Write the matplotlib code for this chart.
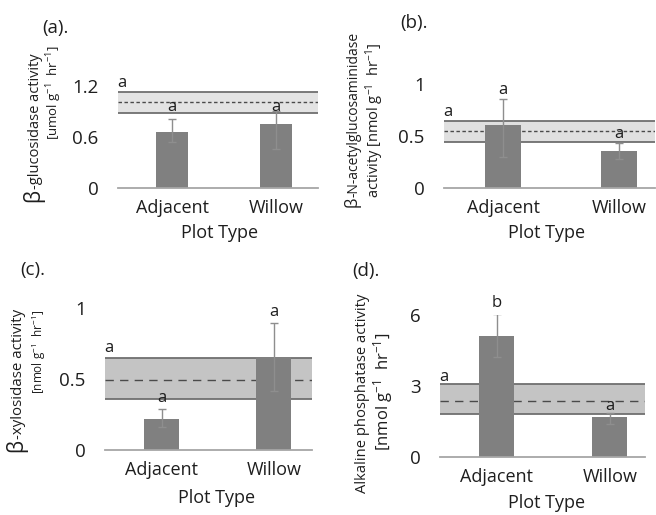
import matplotlib
matplotlib.use("Agg")
import matplotlib.pyplot as plt

plt.rcParams['font.family'] = ['Open Sans', 'DejaVu Sans']
plt.rcParams['mathtext.fontset'] = 'custom'
plt.rcParams['mathtext.rm'] = 'Open Sans'
plt.rcParams['mathtext.it'] = 'Open Sans:italic'
plt.rcParams['mathtext.bf'] = 'Open Sans:bold'

W, H = 656, 515

categories = ["Adjacent", "Willow"]

# (a) beta-glucosidase
a_mean = [0.66, 0.75]
a_lo = [0.12, 0.29]
a_hi = [0.15, 0.16]
a_band = [0.88, 1.13]
a_ctrl = 1.01
a_ticks = [0, 0.6, 1.2]
a_letters = ["a", "a"]
a_letter_y = [0.96, 0.96]
a_ctrl_letter_y = 1.235

# (b) beta-N-acetylglucosaminidase
b_mean = [0.60, 0.35]
b_lo = [0.30, 0.07]
b_hi = [0.25, 0.08]
b_band = [0.44, 0.64]
b_ctrl = 0.545
b_ticks = [0, 0.5, 1]
b_letters = ["a", "a"]
b_letter_y = [0.94, 0.52]
b_ctrl_letter_y = 0.73

# (c) beta-xylosidase
c_mean = [0.22, 0.66]
c_lo = [0.06, 0.24]
c_hi = [0.07, 0.24]
c_band = [0.358, 0.647]
c_ctrl = 0.494
c_ticks = [0, 0.5, 1]
c_letters = ["a", "a"]
c_letter_y = [0.37, 0.977]
c_ctrl_letter_y = 0.72

# (d) alkaline phosphatase
d_mean = [5.11, 1.67]
d_lo = [0.90, 0.29]
d_hi = [0.94, 0.17]
d_band = [1.81, 3.07]
d_ctrl = 2.37
d_ticks = [0, 3, 6]
d_letters = ["b", "a"]
d_letter_y = [6.5, 2.16]
d_ctrl_letter_y = 3.39

fig = plt.figure(figsize=(W / 100, H / 100), dpi=100)
TXT = '#1e1e1e'


def rect(x0, x1, ytop, ybase):
    return [x0 / W, 1 - ybase / H, (x1 - x0) / W, (ybase - ytop) / H]


def panel(r, xlim, ymax, mean, lo, hi, band, ctrl, ticks, letters, letter_y,
          ctrl_y, band_color, dash):
    ax = fig.add_axes(r)
    x = list(range(len(categories)))
    ax.axhspan(band[0], band[1], color=band_color, zorder=1, lw=0)
    for v in band:
        ax.axhline(v, color='#6f6f6f', lw=1.3, zorder=1.5)
    ax.axhline(ctrl, color='#4a4a4a', lw=1.0, ls=(0, dash), zorder=1.6)
    ax.bar(x, mean, width=0.31, color='#808080', zorder=2)
    ax.errorbar(x, mean, yerr=[lo, hi], fmt='none', ecolor='#8e8e8e',
                elinewidth=1.0, capsize=3, capthick=1.0, zorder=3)
    for xi, lab, ly in zip(x, letters, letter_y):
        ax.text(xi, ly, lab, ha='center', va='center', fontsize=12,
                color=TXT, zorder=4, clip_on=False)
    ax.text(xlim[0] - 0.01, ctrl_y, "a", ha='left', va='center', fontsize=12,
            color=TXT, zorder=4, clip_on=False)
    ax.set_xlim(xlim)
    ax.set_ylim(0, ymax)
    ax.set_yticks(ticks)
    ax.set_yticklabels([str(t) for t in ticks])
    ax.set_xticks(x)
    ax.set_xticklabels(categories)
    for s in ['top', 'right', 'left']:
        ax.spines[s].set_visible(False)
    ax.spines['bottom'].set_color('#a6a6a6')
    ax.spines['bottom'].set_linewidth(1.3)
    ax.tick_params(axis='y', length=0, pad=14, labelsize=13.5, labelcolor=TXT)
    ax.tick_params(axis='x', length=0, pad=8, labelsize=13, labelcolor=TXT)
    return ax


ax_a = panel(rect(118, 318, 86.3, 187.7), (-0.52, 1.40), 1.2, a_mean, a_lo, a_hi,
             a_band, a_ctrl, a_ticks, a_letters, a_letter_y, a_ctrl_letter_y,
             '#e3e3e3', (2.5, 1.8))
ax_b = panel(rect(444, 655, 83.7, 187.7), (-0.51, 1.31), 1.0, b_mean, b_lo, b_hi,
             b_band, b_ctrl, b_ticks, b_letters, b_letter_y, b_ctrl_letter_y,
             '#e0e0e0', (2.5, 1.8))
ax_c = panel(rect(105, 312, 308.4, 450), (-0.506, 1.34), 1.0, c_mean, c_lo, c_hi,
             c_band, c_ctrl, c_ticks, c_letters, c_letter_y, c_ctrl_letter_y,
             '#c4c4c4', (6, 4.5))
ax_d = panel(rect(440, 645, 315.1, 456.7), (-0.504, 1.31), 6.0, d_mean, d_lo, d_hi,
             d_band, d_ctrl, d_ticks, d_letters, d_letter_y, d_ctrl_letter_y,
             '#c4c4c4', (6, 4.5))


def ftext(x, y, s, **kw):
    return fig.text(x / W, 1 - y / H, s, **kw)


# panel labels
for lab, px, py in [("(a).", 42, 28), ("(b).", 400, 23), ("(c).", 20, 270), ("(d).", 352, 271)]:
    ftext(px, py, lab, ha='left', va='center', fontsize=13.5, color=TXT)

# x axis titles
for px, py in [(220, 233), (547, 233), (217, 498), (547, 503)]:
    ftext(px, py, "Plot Type", ha='center', va='center', fontsize=13, color=TXT)


def beta_label(xb, ybot, rest, size, bsize):
    b = ftext(xb, ybot, "β", rotation=90, rotation_mode='anchor', ha='left',
              va='baseline', fontsize=bsize, color=TXT)
    ax_a.annotate(rest, xy=(xb / W, 1.0), xycoords=(fig.transFigure, b),
                  rotation=90, rotation_mode='anchor', ha='left', va='baseline',
                  fontsize=size, color=TXT, annotation_clip=False)


unit_n = r"[nmol g$^{-1}$  hr$^{-1}$]"
unit_u = r"[umol g$^{-1}$  hr$^{-1}$]"

beta_label(39, 202, "-glucosidase activity", 10.5, 15)
ftext(54, 93, unit_u, rotation=90, ha='center', va='center', fontsize=9.5, color=TXT)

beta_label(357, 207, "-N-acetylglucosaminidase", 10, 12)
ftext(375, 120, "activity " + unit_n, rotation=90, ha='center', va='center',
      fontsize=10.5, color=TXT)

beta_label(22, 452, "-xylosidase activity", 10.8, 15)
ftext(39, 352, unit_n, rotation=90, ha='center', va='center', fontsize=8.5, color=TXT)

ftext(363, 393, "Alkaline phosphatase activity", rotation=90, ha='center',
      va='center', fontsize=10.6, color=TXT)
ftext(383, 392, unit_n, rotation=90, ha='center', va='center', fontsize=12, color=TXT)

fig.savefig("out.png", dpi=100)
